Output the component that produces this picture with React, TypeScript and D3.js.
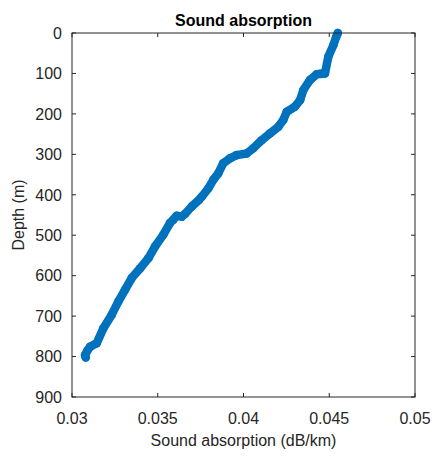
import React from "react";
import * as d3 from "d3";

const xTicks = [0.03, 0.035, 0.04, 0.045, 0.05];
const xTickLabels = ["0.03", "0.035", "0.04", "0.045", "0.05"];
const yTicks = [0, 100, 200, 300, 400, 500, 600, 700, 800, 900];

const absorption = [
  0.04550, 0.04540, 0.04524, 0.04495, 0.04475, 0.04450, 0.04427, 0.04388, 0.04349, 0.04330,
  0.04300, 0.04252, 0.04232, 0.04203, 0.04155, 0.04106, 0.04057, 0.04018, 0.03960, 0.03921,
  0.03882, 0.03853, 0.03824, 0.03795, 0.03756, 0.03740, 0.03698, 0.03660, 0.03640, 0.03610,
  0.03590, 0.03571, 0.03532, 0.03484, 0.03445, 0.03397, 0.03348, 0.03309, 0.03270, 0.03231,
  0.03183, 0.03144, 0.03105, 0.03090, 0.03076, 0.03080,
];
const depth = [
  0, 10, 30, 58, 100, 101, 102, 116, 141, 166,
  182, 195, 215, 232, 248, 265, 285, 298, 302, 310,
  322, 347, 363, 384, 405, 413, 429, 447, 454, 452,
  462, 470, 499, 528, 557, 582, 606, 635, 664, 697,
  730, 767, 776, 785, 796, 802,
];

const W = 438, H = 456;
const M = { left: 72, right: 415, top: 33, bottom: 397 };
const TXT = "#262626";
const FONT = "'Liberation Sans', Arial, Helvetica, sans-serif";

export default function App() {
  const x = d3.scaleLinear().domain([0.03, 0.05]).range([M.left, M.right]);
  const y = d3.scaleLinear().domain([0, 900]).range([M.top, M.bottom]);
  const pts = absorption.map((a, i) => [a, depth[i]] as [number, number]);
  const line = d3.line<[number, number]>().x((d) => x(d[0])).y((d) => y(d[1]));
  const tl = 4;
  return (
    <svg width={W} height={H} style={{ position: "absolute", left: 0, top: 0, background: "#fff" }} fontFamily={FONT}>
      <rect x={0} y={0} width={W} height={H} fill="#fff" />
      <path d={line(pts) || ""} fill="none" stroke="#0072BD" strokeWidth={8.5} strokeLinejoin="round" strokeLinecap="round" />
      {pts.map((p, i) => (
        <circle key={i} cx={x(p[0])} cy={y(p[1])} r={4.3} fill="#0072BD" />
      ))}
      <rect x={M.left} y={M.top} width={M.right - M.left} height={M.bottom - M.top} fill="none" stroke={TXT} strokeWidth={1} />
      {xTicks.map((t, i) => (
        <g key={"x" + i}>
          <line x1={x(t)} x2={x(t)} y1={M.bottom} y2={M.bottom - tl} stroke={TXT} />
          <line x1={x(t)} x2={x(t)} y1={M.top} y2={M.top + tl} stroke={TXT} />
          <text x={x(t)} y={424} textAnchor="middle" fontSize={16} fill={TXT}>{xTickLabels[i]}</text>
        </g>
      ))}
      {yTicks.map((t, i) => (
        <g key={"y" + i}>
          <line x1={M.left} x2={M.left + tl} y1={y(t)} y2={y(t)} stroke={TXT} />
          <line x1={M.right} x2={M.right - tl} y1={y(t)} y2={y(t)} stroke={TXT} />
          <text x={62} y={y(t)} dy="0.36em" textAnchor="end" fontSize={16} fill={TXT}>{String(t)}</text>
        </g>
      ))}
      <text x={(M.left + M.right) / 2} y={26} textAnchor="middle" fontSize={16} fontWeight="bold" fill="#000">Sound absorption</text>
      <text x={(M.left + M.right) / 2} y={446} textAnchor="middle" fontSize={16} fill={TXT}>Sound absorption (dB/km)</text>
      <text transform={`translate(24,${(M.top + M.bottom) / 2}) rotate(-90)`} textAnchor="middle" fontSize={16} fill={TXT}>Depth (m)</text>
    </svg>
  );
}
